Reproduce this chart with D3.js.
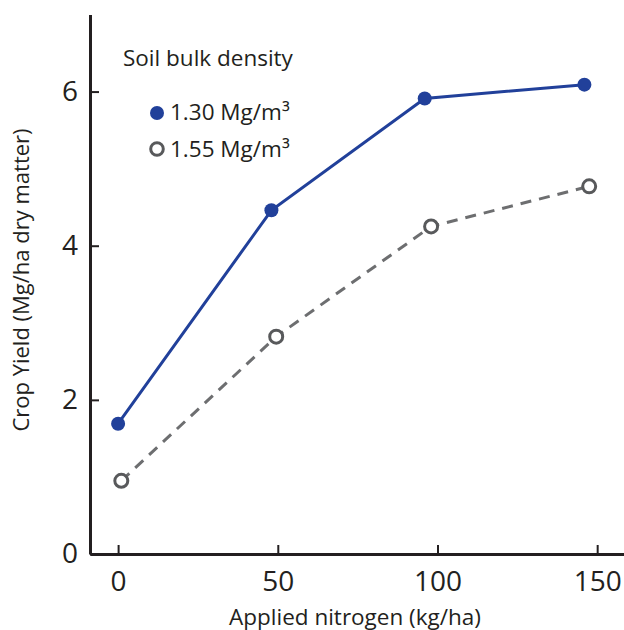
<!DOCTYPE html>
<html>
<head>
<meta charset="utf-8">
<script src="https://cdn.jsdelivr.net/npm/d3@7"></script>
<style>
  body { margin: 0; background: #fff; }
  svg text { font-family: "Open Sans", "Noto Sans", sans-serif; fill: #231f20; }
</style>
</head>
<body>
<svg id="chart"></svg>
<script>
// Crop yield vs applied nitrogen, two soil bulk densities

const seriesNames = ["1.30 Mg/m³", "1.55 Mg/m³"];
const nitrogenLow = [0, 48, 96, 146];
const yieldLow = [1.69, 4.46, 5.91, 6.09];
const nitrogenHigh = [1, 49.5, 98, 147.5];
const yieldHigh = [0.95, 2.82, 4.25, 4.77];
const xTicks = [0, 50, 100, 150];
const yTicks = [0, 2, 4, 6];

const width = 624, height = 630;
const svg = d3.select("#chart").attr("width", width).attr("height", height);

const x = d3.scaleLinear().domain([-8.8, 158.4]).range([90, 624]);
const y = d3.scaleLinear().domain([0, 7]).range([554, 14.5]);

const axisColor = "#231f20";
const labelSize = 22.5;

// x axis, ticks pointing up into the plot
const xAxis = svg.append("g")
    .attr("transform", `translate(0, ${y(0)})`)
    .call(d3.axisBottom(x).tickValues(xTicks).tickSize(-9).tickPadding(17).tickSizeOuter(0));
xAxis.select(".domain").attr("stroke", axisColor).attr("stroke-width", 3);
xAxis.selectAll(".tick line").attr("stroke", axisColor).attr("stroke-width", 2);
xAxis.selectAll(".tick text").attr("font-size", 28);

// y axis, ticks pointing right into the plot
const yAxis = svg.append("g")
    .attr("transform", `translate(${x.range()[0]}, 0)`)
    .call(d3.axisLeft(y).tickValues(yTicks).tickFormat(d3.format("d"))
        .tickSize(-9).tickPadding(12).tickSizeOuter(0));
yAxis.select(".domain").attr("stroke", axisColor).attr("stroke-width", 3);
yAxis.selectAll(".tick line").attr("stroke", axisColor).attr("stroke-width", 2);
yAxis.selectAll(".tick text").attr("font-size", 28);

// axis titles
svg.append("text")
    .attr("x", 355).attr("y", 625)
    .attr("text-anchor", "middle")
    .attr("font-size", labelSize)
    .text("Applied nitrogen (kg/ha)");

svg.append("text")
    .attr("transform", "translate(29, 280) rotate(-90)")
    .attr("text-anchor", "middle")
    .attr("font-size", 22)
    .text("Crop Yield (Mg/ha dry matter)");

const line = d3.line().x(d => x(d[0])).y(d => y(d[1]));
const low = nitrogenLow.map((n, i) => [n, yieldLow[i]]);
const high = nitrogenHigh.map((n, i) => [n, yieldHigh[i]]);

// 1.55 series: dashed gray, open circles
svg.append("path")
    .datum(high)
    .attr("d", line)
    .attr("fill", "none")
    .attr("stroke", "#6d6e70")
    .attr("stroke-width", 3)
    .attr("stroke-dasharray", "11,8");

svg.selectAll(".open")
    .data(high)
    .enter().append("circle")
    .attr("class", "open")
    .attr("cx", d => x(d[0]))
    .attr("cy", d => y(d[1]))
    .attr("r", 6.5)
    .attr("fill", "#fff")
    .attr("stroke", "#58595b")
    .attr("stroke-width", 3);

// 1.30 series: solid blue, filled dots
svg.append("path")
    .datum(low)
    .attr("d", line)
    .attr("fill", "none")
    .attr("stroke", "#21409a")
    .attr("stroke-width", 3);

svg.selectAll(".filled")
    .data(low)
    .enter().append("circle")
    .attr("class", "filled")
    .attr("cx", d => x(d[0]))
    .attr("cy", d => y(d[1]))
    .attr("r", 7)
    .attr("fill", "#21409a");

// legend
const legend = svg.append("g");
legend.append("text")
    .attr("x", 123).attr("y", 66)
    .attr("font-size", labelSize)
    .text("Soil bulk density");

legend.append("circle")
    .attr("cx", 157).attr("cy", 113).attr("r", 7)
    .attr("fill", "#21409a");
legend.append("circle")
    .attr("cx", 157).attr("cy", 149).attr("r", 6.3)
    .attr("fill", "#fff").attr("stroke", "#58595b").attr("stroke-width", 3);

legend.selectAll(".legend-label")
    .data(seriesNames)
    .enter().append("text")
    .attr("class", "legend-label")
    .attr("x", 170)
    .attr("y", (d, i) => 120 + i * 37)
    .attr("font-size", labelSize)
    .text(d => d);
</script>
</body>
</html>
